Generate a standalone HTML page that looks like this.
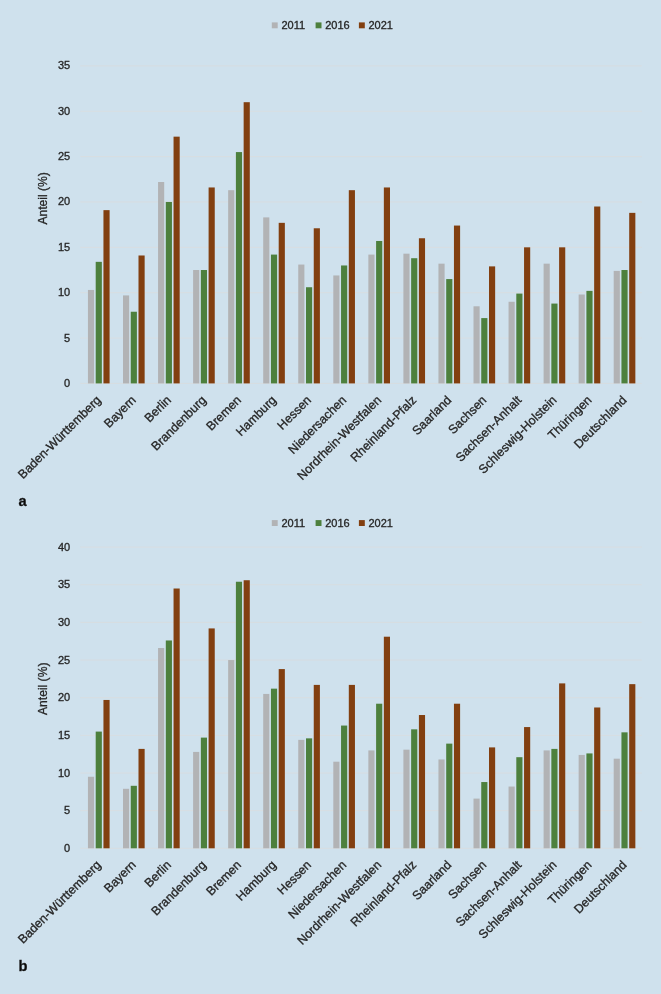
<!DOCTYPE html>
<html lang="de"><head><meta charset="utf-8"><title>Anteil (%) nach Bundesland</title>
<style>html,body{margin:0;padding:0;background:#cfe1ed;}body{width:661px;height:994px;overflow:hidden;font-family:"Liberation Sans",Arial,sans-serif;}svg{display:block;will-change:transform;}svg text{stroke:#262626;stroke-width:0.32px;}</style>
</head><body>
<svg width="661" height="994" viewBox="0 0 661 994" font-family="'Liberation Sans', Arial, sans-serif">
<rect width="661" height="994" fill="#cfe1ed"/>
<line x1="80.3" x2="641.8" y1="383.40" y2="383.40" stroke="#dcdbdb" stroke-width="1" stroke-opacity="0.7"/>
<text x="70.2" y="386.90" text-anchor="end" font-size="11.0" fill="#262626">0</text>
<line x1="80.3" x2="641.8" y1="338.04" y2="338.04" stroke="#dcdbdb" stroke-width="1" stroke-opacity="0.7"/>
<text x="70.2" y="341.54" text-anchor="end" font-size="11.0" fill="#262626">5</text>
<line x1="80.3" x2="641.8" y1="292.69" y2="292.69" stroke="#dcdbdb" stroke-width="1" stroke-opacity="0.7"/>
<text x="70.2" y="296.19" text-anchor="end" font-size="11.0" fill="#262626">10</text>
<line x1="80.3" x2="641.8" y1="247.33" y2="247.33" stroke="#dcdbdb" stroke-width="1" stroke-opacity="0.7"/>
<text x="70.2" y="250.83" text-anchor="end" font-size="11.0" fill="#262626">15</text>
<line x1="80.3" x2="641.8" y1="201.97" y2="201.97" stroke="#dcdbdb" stroke-width="1" stroke-opacity="0.7"/>
<text x="70.2" y="205.47" text-anchor="end" font-size="11.0" fill="#262626">20</text>
<line x1="80.3" x2="641.8" y1="156.61" y2="156.61" stroke="#dcdbdb" stroke-width="1" stroke-opacity="0.7"/>
<text x="70.2" y="160.11" text-anchor="end" font-size="11.0" fill="#262626">25</text>
<line x1="80.3" x2="641.8" y1="111.26" y2="111.26" stroke="#dcdbdb" stroke-width="1" stroke-opacity="0.7"/>
<text x="70.2" y="114.76" text-anchor="end" font-size="11.0" fill="#262626">30</text>
<line x1="80.3" x2="641.8" y1="65.90" y2="65.90" stroke="#dcdbdb" stroke-width="1" stroke-opacity="0.7"/>
<text x="70.2" y="69.40" text-anchor="end" font-size="11.0" fill="#262626">35</text>
<rect x="87.95" y="289.96" width="6.15" height="93.44" fill="#b2b3b5"/>
<rect x="95.70" y="261.84" width="6.15" height="121.56" fill="#4d803d"/>
<rect x="103.45" y="210.14" width="6.15" height="173.26" fill="#823f10"/>
<rect x="123.00" y="295.41" width="6.15" height="87.99" fill="#b2b3b5"/>
<rect x="130.75" y="311.74" width="6.15" height="71.66" fill="#4d803d"/>
<rect x="138.50" y="255.49" width="6.15" height="127.91" fill="#823f10"/>
<rect x="158.05" y="182.01" width="6.15" height="201.39" fill="#b2b3b5"/>
<rect x="165.80" y="201.97" width="6.15" height="181.43" fill="#4d803d"/>
<rect x="173.55" y="136.66" width="6.15" height="246.74" fill="#823f10"/>
<rect x="193.10" y="270.01" width="6.15" height="113.39" fill="#b2b3b5"/>
<rect x="200.85" y="270.01" width="6.15" height="113.39" fill="#4d803d"/>
<rect x="208.60" y="187.46" width="6.15" height="195.94" fill="#823f10"/>
<rect x="228.15" y="190.18" width="6.15" height="193.22" fill="#b2b3b5"/>
<rect x="235.90" y="152.08" width="6.15" height="231.32" fill="#4d803d"/>
<rect x="243.65" y="102.19" width="6.15" height="281.21" fill="#823f10"/>
<rect x="263.20" y="217.39" width="6.15" height="166.01" fill="#b2b3b5"/>
<rect x="270.95" y="254.59" width="6.15" height="128.81" fill="#4d803d"/>
<rect x="278.70" y="222.84" width="6.15" height="160.56" fill="#823f10"/>
<rect x="298.25" y="264.56" width="6.15" height="118.84" fill="#b2b3b5"/>
<rect x="306.00" y="287.24" width="6.15" height="96.16" fill="#4d803d"/>
<rect x="313.75" y="228.28" width="6.15" height="155.12" fill="#823f10"/>
<rect x="333.30" y="275.45" width="6.15" height="107.95" fill="#b2b3b5"/>
<rect x="341.05" y="265.47" width="6.15" height="117.93" fill="#4d803d"/>
<rect x="348.80" y="190.18" width="6.15" height="193.22" fill="#823f10"/>
<rect x="368.35" y="254.59" width="6.15" height="128.81" fill="#b2b3b5"/>
<rect x="376.10" y="240.98" width="6.15" height="142.42" fill="#4d803d"/>
<rect x="383.85" y="187.46" width="6.15" height="195.94" fill="#823f10"/>
<rect x="403.40" y="253.68" width="6.15" height="129.72" fill="#b2b3b5"/>
<rect x="411.15" y="258.21" width="6.15" height="125.19" fill="#4d803d"/>
<rect x="418.90" y="238.26" width="6.15" height="145.14" fill="#823f10"/>
<rect x="438.45" y="263.66" width="6.15" height="119.74" fill="#b2b3b5"/>
<rect x="446.20" y="279.08" width="6.15" height="104.32" fill="#4d803d"/>
<rect x="453.95" y="225.56" width="6.15" height="157.84" fill="#823f10"/>
<rect x="473.50" y="306.29" width="6.15" height="77.11" fill="#b2b3b5"/>
<rect x="481.25" y="318.09" width="6.15" height="65.31" fill="#4d803d"/>
<rect x="489.00" y="266.38" width="6.15" height="117.02" fill="#823f10"/>
<rect x="508.55" y="301.76" width="6.15" height="81.64" fill="#b2b3b5"/>
<rect x="516.30" y="293.59" width="6.15" height="89.81" fill="#4d803d"/>
<rect x="524.05" y="247.33" width="6.15" height="136.07" fill="#823f10"/>
<rect x="543.60" y="263.66" width="6.15" height="119.74" fill="#b2b3b5"/>
<rect x="551.35" y="303.57" width="6.15" height="79.83" fill="#4d803d"/>
<rect x="559.10" y="247.33" width="6.15" height="136.07" fill="#823f10"/>
<rect x="578.65" y="294.50" width="6.15" height="88.90" fill="#b2b3b5"/>
<rect x="586.40" y="290.87" width="6.15" height="92.53" fill="#4d803d"/>
<rect x="594.15" y="206.51" width="6.15" height="176.89" fill="#823f10"/>
<rect x="613.70" y="270.91" width="6.15" height="112.49" fill="#b2b3b5"/>
<rect x="621.45" y="270.01" width="6.15" height="113.39" fill="#4d803d"/>
<rect x="629.20" y="212.86" width="6.15" height="170.54" fill="#823f10"/>
<text transform="translate(101.68,400.80) rotate(-45)" text-anchor="end" font-size="12.35" fill="#262626">Baden-Württemberg</text>
<text transform="translate(136.72,400.80) rotate(-45)" text-anchor="end" font-size="12.35" fill="#262626">Bayern</text>
<text transform="translate(171.78,400.80) rotate(-45)" text-anchor="end" font-size="12.35" fill="#262626">Berlin</text>
<text transform="translate(206.82,400.80) rotate(-45)" text-anchor="end" font-size="12.35" fill="#262626">Brandenburg</text>
<text transform="translate(241.88,400.80) rotate(-45)" text-anchor="end" font-size="12.35" fill="#262626">Bremen</text>
<text transform="translate(276.92,400.80) rotate(-45)" text-anchor="end" font-size="12.35" fill="#262626">Hamburg</text>
<text transform="translate(311.97,400.80) rotate(-45)" text-anchor="end" font-size="12.35" fill="#262626">Hessen</text>
<text transform="translate(347.02,400.80) rotate(-45)" text-anchor="end" font-size="12.35" fill="#262626">Niedersachen</text>
<text transform="translate(382.07,400.80) rotate(-45)" text-anchor="end" font-size="12.35" fill="#262626">Nordrhein-Westfalen</text>
<text transform="translate(417.12,400.80) rotate(-45)" text-anchor="end" font-size="12.35" fill="#262626">Rheinland-Pfalz</text>
<text transform="translate(452.17,400.80) rotate(-45)" text-anchor="end" font-size="12.35" fill="#262626">Saarland</text>
<text transform="translate(487.22,400.80) rotate(-45)" text-anchor="end" font-size="12.35" fill="#262626">Sachsen</text>
<text transform="translate(522.27,400.80) rotate(-45)" text-anchor="end" font-size="12.35" fill="#262626">Sachsen-Anhalt</text>
<text transform="translate(557.32,400.80) rotate(-45)" text-anchor="end" font-size="12.35" fill="#262626">Schleswig-Holstein</text>
<text transform="translate(592.37,400.80) rotate(-45)" text-anchor="end" font-size="12.35" fill="#262626">Thüringen</text>
<text transform="translate(627.42,400.80) rotate(-45)" text-anchor="end" font-size="12.35" fill="#262626">Deutschland</text>
<text transform="translate(46.6,198.4) rotate(-90)" text-anchor="middle" font-size="12.1" fill="#262626">Anteil (%)</text>
<rect x="271.8" y="22.4" width="5.9" height="5.9" fill="#b2b3b5"/>
<text x="281.4" y="29.2" font-size="11.0" fill="#262626">2011</text>
<rect x="315.6" y="22.4" width="5.9" height="5.9" fill="#4d803d"/>
<text x="325.2" y="29.2" font-size="11.0" fill="#262626">2016</text>
<rect x="358.9" y="22.4" width="5.9" height="5.9" fill="#823f10"/>
<text x="368.5" y="29.2" font-size="11.0" fill="#262626">2021</text>
<text x="18.6" y="505.5" font-size="14.7" font-weight="bold" fill="#0a0a0a" stroke="#0a0a0a">a</text>
<line x1="80.3" x2="641.8" y1="848.30" y2="848.30" stroke="#dcdbdb" stroke-width="1" stroke-opacity="0.7"/>
<text x="70.2" y="851.80" text-anchor="end" font-size="11.0" fill="#262626">0</text>
<line x1="80.3" x2="641.8" y1="810.65" y2="810.65" stroke="#dcdbdb" stroke-width="1" stroke-opacity="0.7"/>
<text x="70.2" y="814.15" text-anchor="end" font-size="11.0" fill="#262626">5</text>
<line x1="80.3" x2="641.8" y1="773.00" y2="773.00" stroke="#dcdbdb" stroke-width="1" stroke-opacity="0.7"/>
<text x="70.2" y="776.50" text-anchor="end" font-size="11.0" fill="#262626">10</text>
<line x1="80.3" x2="641.8" y1="735.35" y2="735.35" stroke="#dcdbdb" stroke-width="1" stroke-opacity="0.7"/>
<text x="70.2" y="738.85" text-anchor="end" font-size="11.0" fill="#262626">15</text>
<line x1="80.3" x2="641.8" y1="697.70" y2="697.70" stroke="#dcdbdb" stroke-width="1" stroke-opacity="0.7"/>
<text x="70.2" y="701.20" text-anchor="end" font-size="11.0" fill="#262626">20</text>
<line x1="80.3" x2="641.8" y1="660.05" y2="660.05" stroke="#dcdbdb" stroke-width="1" stroke-opacity="0.7"/>
<text x="70.2" y="663.55" text-anchor="end" font-size="11.0" fill="#262626">25</text>
<line x1="80.3" x2="641.8" y1="622.40" y2="622.40" stroke="#dcdbdb" stroke-width="1" stroke-opacity="0.7"/>
<text x="70.2" y="625.90" text-anchor="end" font-size="11.0" fill="#262626">30</text>
<line x1="80.3" x2="641.8" y1="584.75" y2="584.75" stroke="#dcdbdb" stroke-width="1" stroke-opacity="0.7"/>
<text x="70.2" y="588.25" text-anchor="end" font-size="11.0" fill="#262626">35</text>
<line x1="80.3" x2="641.8" y1="547.10" y2="547.10" stroke="#dcdbdb" stroke-width="1" stroke-opacity="0.7"/>
<text x="70.2" y="550.60" text-anchor="end" font-size="11.0" fill="#262626">40</text>
<rect x="87.95" y="776.76" width="6.15" height="71.53" fill="#b2b3b5"/>
<rect x="95.70" y="731.59" width="6.15" height="116.71" fill="#4d803d"/>
<rect x="103.45" y="699.96" width="6.15" height="148.34" fill="#823f10"/>
<rect x="123.00" y="788.81" width="6.15" height="59.49" fill="#b2b3b5"/>
<rect x="130.75" y="785.80" width="6.15" height="62.50" fill="#4d803d"/>
<rect x="138.50" y="748.90" width="6.15" height="99.40" fill="#823f10"/>
<rect x="158.05" y="648.00" width="6.15" height="200.30" fill="#b2b3b5"/>
<rect x="165.80" y="640.47" width="6.15" height="207.83" fill="#4d803d"/>
<rect x="173.55" y="588.51" width="6.15" height="259.78" fill="#823f10"/>
<rect x="193.10" y="751.92" width="6.15" height="96.38" fill="#b2b3b5"/>
<rect x="200.85" y="737.61" width="6.15" height="110.69" fill="#4d803d"/>
<rect x="208.60" y="628.42" width="6.15" height="219.88" fill="#823f10"/>
<rect x="228.15" y="660.05" width="6.15" height="188.25" fill="#b2b3b5"/>
<rect x="235.90" y="581.74" width="6.15" height="266.56" fill="#4d803d"/>
<rect x="243.65" y="580.23" width="6.15" height="268.07" fill="#823f10"/>
<rect x="263.20" y="693.93" width="6.15" height="154.36" fill="#b2b3b5"/>
<rect x="270.95" y="688.66" width="6.15" height="159.64" fill="#4d803d"/>
<rect x="278.70" y="669.09" width="6.15" height="179.21" fill="#823f10"/>
<rect x="298.25" y="739.87" width="6.15" height="108.43" fill="#b2b3b5"/>
<rect x="306.00" y="738.36" width="6.15" height="109.94" fill="#4d803d"/>
<rect x="313.75" y="684.90" width="6.15" height="163.40" fill="#823f10"/>
<rect x="333.30" y="761.70" width="6.15" height="86.59" fill="#b2b3b5"/>
<rect x="341.05" y="725.56" width="6.15" height="122.74" fill="#4d803d"/>
<rect x="348.80" y="684.90" width="6.15" height="163.40" fill="#823f10"/>
<rect x="368.35" y="750.41" width="6.15" height="97.89" fill="#b2b3b5"/>
<rect x="376.10" y="703.72" width="6.15" height="144.58" fill="#4d803d"/>
<rect x="383.85" y="636.71" width="6.15" height="211.59" fill="#823f10"/>
<rect x="403.40" y="749.66" width="6.15" height="98.64" fill="#b2b3b5"/>
<rect x="411.15" y="729.33" width="6.15" height="118.97" fill="#4d803d"/>
<rect x="418.90" y="715.02" width="6.15" height="133.28" fill="#823f10"/>
<rect x="438.45" y="759.45" width="6.15" height="88.85" fill="#b2b3b5"/>
<rect x="446.20" y="743.63" width="6.15" height="104.67" fill="#4d803d"/>
<rect x="453.95" y="703.72" width="6.15" height="144.58" fill="#823f10"/>
<rect x="473.50" y="798.60" width="6.15" height="49.70" fill="#b2b3b5"/>
<rect x="481.25" y="782.04" width="6.15" height="66.26" fill="#4d803d"/>
<rect x="489.00" y="747.40" width="6.15" height="100.90" fill="#823f10"/>
<rect x="508.55" y="786.55" width="6.15" height="61.75" fill="#b2b3b5"/>
<rect x="516.30" y="757.19" width="6.15" height="91.11" fill="#4d803d"/>
<rect x="524.05" y="727.07" width="6.15" height="121.23" fill="#823f10"/>
<rect x="543.60" y="750.41" width="6.15" height="97.89" fill="#b2b3b5"/>
<rect x="551.35" y="748.90" width="6.15" height="99.40" fill="#4d803d"/>
<rect x="559.10" y="683.39" width="6.15" height="164.91" fill="#823f10"/>
<rect x="578.65" y="754.93" width="6.15" height="93.37" fill="#b2b3b5"/>
<rect x="586.40" y="753.42" width="6.15" height="94.88" fill="#4d803d"/>
<rect x="594.15" y="707.49" width="6.15" height="140.81" fill="#823f10"/>
<rect x="613.70" y="758.69" width="6.15" height="89.61" fill="#b2b3b5"/>
<rect x="621.45" y="732.34" width="6.15" height="115.96" fill="#4d803d"/>
<rect x="629.20" y="684.15" width="6.15" height="164.15" fill="#823f10"/>
<text transform="translate(101.68,865.70) rotate(-45)" text-anchor="end" font-size="12.35" fill="#262626">Baden-Württemberg</text>
<text transform="translate(136.72,865.70) rotate(-45)" text-anchor="end" font-size="12.35" fill="#262626">Bayern</text>
<text transform="translate(171.78,865.70) rotate(-45)" text-anchor="end" font-size="12.35" fill="#262626">Berlin</text>
<text transform="translate(206.82,865.70) rotate(-45)" text-anchor="end" font-size="12.35" fill="#262626">Brandenburg</text>
<text transform="translate(241.88,865.70) rotate(-45)" text-anchor="end" font-size="12.35" fill="#262626">Bremen</text>
<text transform="translate(276.92,865.70) rotate(-45)" text-anchor="end" font-size="12.35" fill="#262626">Hamburg</text>
<text transform="translate(311.97,865.70) rotate(-45)" text-anchor="end" font-size="12.35" fill="#262626">Hessen</text>
<text transform="translate(347.02,865.70) rotate(-45)" text-anchor="end" font-size="12.35" fill="#262626">Niedersachen</text>
<text transform="translate(382.07,865.70) rotate(-45)" text-anchor="end" font-size="12.35" fill="#262626">Nordrhein-Westfalen</text>
<text transform="translate(417.12,865.70) rotate(-45)" text-anchor="end" font-size="12.35" fill="#262626">Rheinland-Pfalz</text>
<text transform="translate(452.17,865.70) rotate(-45)" text-anchor="end" font-size="12.35" fill="#262626">Saarland</text>
<text transform="translate(487.22,865.70) rotate(-45)" text-anchor="end" font-size="12.35" fill="#262626">Sachsen</text>
<text transform="translate(522.27,865.70) rotate(-45)" text-anchor="end" font-size="12.35" fill="#262626">Sachsen-Anhalt</text>
<text transform="translate(557.32,865.70) rotate(-45)" text-anchor="end" font-size="12.35" fill="#262626">Schleswig-Holstein</text>
<text transform="translate(592.37,865.70) rotate(-45)" text-anchor="end" font-size="12.35" fill="#262626">Thüringen</text>
<text transform="translate(627.42,865.70) rotate(-45)" text-anchor="end" font-size="12.35" fill="#262626">Deutschland</text>
<text transform="translate(46.6,688.8) rotate(-90)" text-anchor="middle" font-size="12.1" fill="#262626">Anteil (%)</text>
<rect x="271.8" y="520.1" width="5.9" height="5.9" fill="#b2b3b5"/>
<text x="281.4" y="527.0" font-size="11.0" fill="#262626">2011</text>
<rect x="315.6" y="520.1" width="5.9" height="5.9" fill="#4d803d"/>
<text x="325.2" y="527.0" font-size="11.0" fill="#262626">2016</text>
<rect x="358.9" y="520.1" width="5.9" height="5.9" fill="#823f10"/>
<text x="368.5" y="527.0" font-size="11.0" fill="#262626">2021</text>
<text x="18.6" y="971.2" font-size="14.7" font-weight="bold" fill="#0a0a0a" stroke="#0a0a0a">b</text>
</svg>
</body></html>
